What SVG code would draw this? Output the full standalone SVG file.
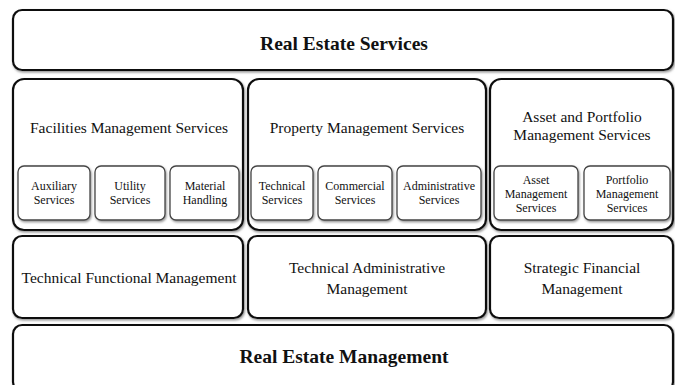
<svg xmlns="http://www.w3.org/2000/svg" width="675" height="385" viewBox="0 0 675 385">
<defs>
<filter id="sh" x="-5%" y="-5%" width="110%" height="115%">
<feDropShadow dx="1" dy="1.5" stdDeviation="1" flood-color="#777" flood-opacity="0.8"/>
</filter>
<style>
.big{fill:#fff;stroke:#111;stroke-width:2.2;filter:url(#sh)}
.sub{fill:#fff;stroke:#444;stroke-width:1.3;filter:url(#sh)}
text{font-family:"Liberation Serif","Times New Roman",serif;fill:#111;text-anchor:middle}
.t{font-size:15.5px}
.s{font-size:12px}
.b{font-size:19.5px;font-weight:bold}
</style>
</defs>
<rect width="675" height="385" fill="#fff"/>
<g id="real-estate-services">
<rect class="big" x="13" y="10" width="660" height="60" rx="9"/>
<text class="b" x="344" y="50">Real Estate Services</text>
</g>
<g id="facilities-management-services">
<rect class="big" x="13" y="79" width="230" height="151" rx="11"/>
<text class="t" x="129" y="133">Facilities Management Services</text>
</g>
<g id="auxiliary-services">
<rect class="sub" x="18" y="166" width="72" height="54" rx="6"/>
<text class="s" x="54" y="190">Auxiliary</text>
<text class="s" x="54" y="204">Services</text>
</g>
<g id="utility-services">
<rect class="sub" x="95" y="166" width="70" height="54" rx="6"/>
<text class="s" x="130" y="190">Utility</text>
<text class="s" x="130" y="204">Services</text>
</g>
<g id="material-handling">
<rect class="sub" x="170" y="166" width="69" height="54" rx="6"/>
<text class="s" x="205" y="190">Material</text>
<text class="s" x="205" y="204">Handling</text>
</g>
<g id="property-management-services">
<rect class="big" x="248" y="79" width="238" height="151" rx="11"/>
<text class="t" x="367" y="133">Property Management Services</text>
</g>
<g id="technical-services">
<rect class="sub" x="251" y="166" width="62" height="54" rx="6"/>
<text class="s" x="282" y="190">Technical</text>
<text class="s" x="282" y="204">Services</text>
</g>
<g id="commercial-services">
<rect class="sub" x="318" y="166" width="74" height="54" rx="6"/>
<text class="s" x="355" y="190">Commercial</text>
<text class="s" x="355" y="204">Services</text>
</g>
<g id="administrative-services">
<rect class="sub" x="397" y="166" width="84" height="54" rx="6"/>
<text class="s" x="439" y="190">Administrative</text>
<text class="s" x="439" y="204">Services</text>
</g>
<g id="asset-portfolio-management-services">
<rect class="big" x="490" y="79" width="183" height="151" rx="11"/>
<text class="t" x="582" y="122">Asset and Portfolio</text>
<text class="t" x="582" y="140">Management Services</text>
</g>
<g id="asset-management-services">
<rect class="sub" x="494" y="166" width="84" height="54" rx="6"/>
<text class="s" x="536" y="184">Asset</text>
<text class="s" x="536" y="198">Management</text>
<text class="s" x="536" y="212">Services</text>
</g>
<g id="portfolio-management-services">
<rect class="sub" x="584" y="166" width="86" height="54" rx="6"/>
<text class="s" x="627" y="184">Portfolio</text>
<text class="s" x="627" y="198">Management</text>
<text class="s" x="627" y="212">Services</text>
</g>
<g id="technical-functional-management">
<rect class="big" x="13" y="236" width="230" height="82" rx="9"/>
<text class="t" x="129" y="283">Technical Functional Management</text>
</g>
<g id="technical-administrative-management">
<rect class="big" x="248" y="236" width="238" height="82" rx="9"/>
<text class="t" x="367" y="273">Technical Administrative</text>
<text class="t" x="367" y="294">Management</text>
</g>
<g id="strategic-financial-management">
<rect class="big" x="490" y="236" width="183" height="82" rx="9"/>
<text class="t" x="582" y="273">Strategic Financial</text>
<text class="t" x="582" y="294">Management</text>
</g>
<g id="real-estate-management">
<rect class="big" x="13" y="325" width="660" height="66" rx="9"/>
<text class="b" x="344" y="363">Real Estate Management</text>
</g>
<g id="connectors"/>
</svg>
